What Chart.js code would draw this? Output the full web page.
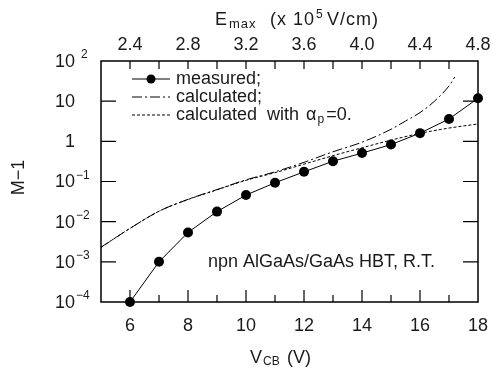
<!DOCTYPE html>
<html>
<head>
<meta charset="utf-8">
<script src="https://cdn.jsdelivr.net/npm/chart.js@4.4.0/dist/chart.umd.min.js"></script>
<style>
body { margin: 0; background: #fff; }
</style>
</head>
<body>
<canvas id="myChart" width="492" height="377"></canvas>
<script>
// measured M-1 vs V_CB (V)
const vMeas = [6, 7, 8, 9, 10, 11, 12, 13, 14, 15, 16, 17, 18];
const mMeas = [1.0e-4, 1.0e-3, 5.4e-3, 1.78e-2, 4.6e-2, 9.3e-2, 0.174, 0.32, 0.51, 0.83, 1.6, 3.6, 11.8];

// calculated
const vCalc = [5, 6, 7, 8, 9, 10, 11, 12, 13, 14, 15, 15.5, 16, 16.5, 17, 17.2];
const mCalc = [2.3e-3, 6.8e-3, 1.82e-2, 3.6e-2, 6.3e-2, 0.11, 0.174, 0.30, 0.55, 0.95, 2.0, 3.2, 5.2, 10, 24, 40];

// calculated with alpha_p = 0
const vZero = [5, 6, 7, 8, 9, 10, 11, 12, 13, 14, 15, 16, 17, 18];
const mZero = [2.3e-3, 6.8e-3, 1.82e-2, 3.55e-2, 6.2e-2, 0.107, 0.166, 0.27, 0.44, 0.69, 1.07, 1.58, 2.14, 2.7];

// axis ticks
const vTicks = [6, 7, 8, 9, 10, 11, 12, 13, 14, 15, 16, 17];
const vLabels = [6, 8, 10, 12, 14, 16, 18];
const yTickVals = [1e-4, 1e-3, 1e-2, 1e-1, 1, 10, 100];
const yTickBase = ['10', '10', '10', '10', '1', '10', '10'];
const yTickExp = ['\u22124', '\u22123', '\u22122', '\u22121', '', '', '2'];
const eTicks = [2.4, 2.6, 2.8, 3.0, 3.2, 3.4, 3.6, 3.8, 4.0, 4.2, 4.4, 4.6];
const eLabels = ['2.4', '2.8', '3.2', '3.6', '4.0', '4.4', '4.8'];

const FONT = '"Liberation Sans", Arial, sans-serif';
const INK = '#1a1a1a';

function pts(xs, ys) {
    return xs.map((v, i) => ({ x: v, y: ys[i] }));
}

// draws frame, inward ticks, labels, titles, legend and note
const decor = {
    id: 'decor',
    afterDraw(chart) {
        const ctx = chart.ctx;
        const a = chart.chartArea;
        const sx = chart.scales.x, sy = chart.scales.y, se = chart.scales.x2;
        ctx.save();
        ctx.strokeStyle = '#000';
        ctx.fillStyle = INK;
        ctx.lineWidth = 1.5;
        ctx.strokeRect(a.left, a.top, a.right - a.left, a.bottom - a.top);

        ctx.lineWidth = 1.2;
        ctx.beginPath();
        vTicks.forEach(v => {
            const px = sx.getPixelForValue(v);
            const len = v % 2 === 0 ? 12 : 7;
            ctx.moveTo(px, a.bottom);
            ctx.lineTo(px, a.bottom - len);
        });
        eTicks.forEach(v => {
            const px = se.getPixelForValue(v);
            ctx.moveTo(px, a.top);
            ctx.lineTo(px, a.top + 8);
        });
        yTickVals.slice(1, -1).forEach(v => {
            const py = sy.getPixelForValue(v);
            ctx.moveTo(a.left, py);
            ctx.lineTo(a.left + 15, py);
            ctx.moveTo(a.right, py);
            ctx.lineTo(a.right - 15, py);
        });
        ctx.stroke();

        // bottom labels
        ctx.font = '18px ' + FONT;
        ctx.textAlign = 'center';
        ctx.textBaseline = 'middle';
        vLabels.forEach(v => {
            ctx.fillText(String(v), sx.getPixelForValue(v), a.bottom + 24);
        });
        // top labels
        eLabels.forEach(s => {
            ctx.fillText(s, se.getPixelForValue(parseFloat(s)), a.top - 16);
        });
        // left labels
        yTickVals.forEach((v, i) => {
            const py = sy.getPixelForValue(v);
            ctx.font = '18px ' + FONT;
            ctx.textAlign = 'right';
            ctx.fillText(yTickBase[i], a.left - 26, py + 1);
            if (yTickExp[i]) {
                ctx.font = '12px ' + FONT;
                ctx.textAlign = 'left';
                const off = yTickExp[i] === '2' ? 6 : 1;
                ctx.fillText(yTickExp[i], a.left - 26 + off, py - 6);
            }
        });

        // y title
        ctx.save();
        ctx.translate(19, (a.top + a.bottom) / 2 - 4);
        ctx.rotate(-Math.PI / 2);
        ctx.font = '18px ' + FONT;
        ctx.textAlign = 'center';
        ctx.fillText('M\u22121', 0, 0);
        ctx.restore();

        // x title: V_CB (V)
        ctx.textAlign = 'left';
        ctx.textBaseline = 'alphabetic';
        ctx.font = '18px ' + FONT;
        ctx.fillText('V', 250, 363);
        ctx.font = '12px ' + FONT;
        ctx.fillText('CB', 263, 365);
        ctx.font = '18px ' + FONT;
        ctx.fillText('(V)', 287, 363);

        // top title: E_max (x 10^5 V/cm)
        ctx.letterSpacing = '1px';
        ctx.font = '18px ' + FONT;
        ctx.fillText('E', 215, 25);
        ctx.font = '13px ' + FONT;
        ctx.fillText('max', 229, 28);
        ctx.font = '18px ' + FONT;
        ctx.fillText('(x 10', 270, 25);
        ctx.font = '12px ' + FONT;
        ctx.fillText('5', 316, 18);
        ctx.font = '18px ' + FONT;
        ctx.fillText('V/cm)', 327, 25);
        ctx.letterSpacing = '0px';

        // legend
        const lx0 = 132, lx1 = 170, ltx = 176;
        const rows = [79, 97, 115];
        ctx.lineWidth = 1;
        ctx.setLineDash([]);
        ctx.beginPath();
        ctx.moveTo(lx0, rows[0]); ctx.lineTo(lx1, rows[0]);
        ctx.stroke();
        ctx.beginPath();
        ctx.arc(151, rows[0], 4.5, 0, Math.PI * 2);
        ctx.fillStyle = '#000';
        ctx.fill();
        ctx.setLineDash([10, 3, 2, 3]);
        ctx.beginPath();
        ctx.moveTo(lx0, rows[1]); ctx.lineTo(lx1, rows[1]);
        ctx.stroke();
        ctx.setLineDash([3, 2]);
        ctx.beginPath();
        ctx.moveTo(lx0, rows[2]); ctx.lineTo(lx1, rows[2]);
        ctx.stroke();
        ctx.setLineDash([]);

        ctx.fillStyle = INK;
        ctx.font = '18px ' + FONT;
        ctx.textBaseline = 'middle';
        ctx.fillText('measured;', ltx, rows[0]);
        ctx.fillText('calculated;', ltx, rows[1]);
        let tx = ltx;
        ctx.fillText('calculated  with ', tx, rows[2]);
        tx += ctx.measureText('calculated  with ').width + 2;
        ctx.fillText('\u03b1', tx, rows[2]);
        tx += ctx.measureText('\u03b1').width + 1;
        ctx.font = '12px ' + FONT;
        ctx.fillText('p', tx, rows[2] + 5);
        tx += ctx.measureText('p').width + 2;
        ctx.font = '18px ' + FONT;
        ctx.fillText('=0.', tx, rows[2]);

        // note
        ctx.fillText('npn AlGaAs/GaAs HBT, R.T.', 208, 262);
        ctx.restore();
    }
};

const ctx = document.getElementById('myChart').getContext('2d');
new Chart(ctx, {
    type: 'line',
    data: {
        datasets: [
            {
                label: 'measured',
                data: pts(vMeas, mMeas),
                borderColor: '#000',
                backgroundColor: '#000',
                borderWidth: 1,
                pointRadius: 5,
                pointBorderWidth: 0,
                tension: 0,
                clip: false
            },
            {
                label: 'calculated',
                data: pts(vCalc, mCalc),
                borderColor: '#000',
                borderWidth: 1,
                borderDash: [10, 3, 2, 3],
                pointRadius: 0,
                cubicInterpolationMode: 'monotone'
            },
            {
                label: 'calculated with alpha_p=0',
                data: pts(vZero, mZero),
                borderColor: '#000',
                borderWidth: 1,
                borderDash: [3, 2],
                pointRadius: 0,
                cubicInterpolationMode: 'monotone'
            }
        ]
    },
    options: {
        responsive: false,
        animation: false,
        layout: { padding: { left: 101, right: 14, top: 61, bottom: 75 } },
        plugins: { legend: { display: false }, tooltip: { enabled: false } },
        scales: {
            x: { type: 'linear', position: 'bottom', min: 5, max: 18, display: false },
            x2: { type: 'linear', position: 'top', min: 2.2, max: 4.8, display: false },
            y: { type: 'logarithmic', min: 1e-4, max: 100, display: false }
        }
    },
    plugins: [decor]
});
</script>
</body>
</html>
